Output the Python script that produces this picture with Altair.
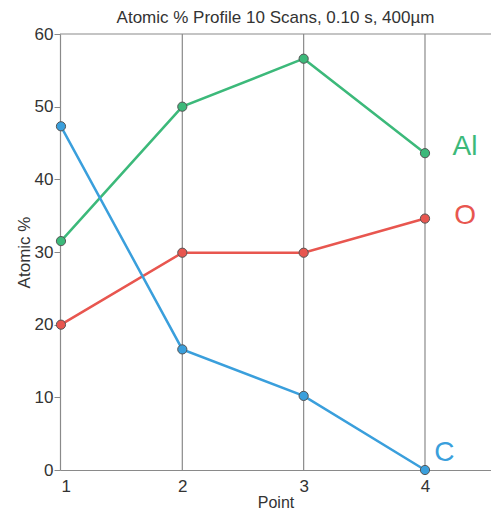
import altair as alt
import pandas as pd

points = [1, 2, 3, 4]
al = [31.5, 50.0, 56.6, 43.6]
o = [20.0, 29.9, 29.9, 34.6]
c = [47.3, 16.6, 10.2, 0.0]

elements = ["Al", "O", "C"]
colors = ["#3cb97a", "#e8564f", "#3a9fdc"]

label_x = [4.33, 4.33, 4.16]
label_y = [44.4, 34.9, 2.3]

rows = []
for name, vals in zip(elements, [al, o, c]):
    for p, v in zip(points, vals):
        rows.append({"Point": p, "Atomic": v, "Element": name})
df = pd.DataFrame(rows)
lab = pd.DataFrame({"x": label_x, "y": label_y, "Element": elements})

FONT = "Liberation Sans"
W, H = 431, 436
xscale = alt.Scale(domain=[0.992, 4.544], nice=False, zero=False)
yscale = alt.Scale(domain=[0, 60], nice=False)
cscale = alt.Scale(domain=elements, range=colors)

base = alt.Chart(df)

grid = alt.Chart(pd.DataFrame({"Point": [2, 3, 4]})).mark_rule(
    color="#8a8a8a", strokeWidth=1.2
).encode(x=alt.X("Point:Q", scale=xscale), y=alt.value(0), y2=alt.value(H))

top = alt.Chart(pd.DataFrame({"a": [0]})).mark_rule(color="#8a8a8a", strokeWidth=1.2).encode(
    x=alt.value(0), x2=alt.value(W), y=alt.value(0)
)

lines = base.mark_line(strokeWidth=2.5).encode(
    x=alt.X(
        "Point:Q",
        scale=xscale,
        axis=alt.Axis(
            values=points,
            format="d",
            grid=False,
            ticks=False,
            domainColor="#8a8a8a",
            domainWidth=1.2,
            labelFont=FONT,
            labelFontSize=17,
            labelColor="#333333",
            labelPadding=8,
            title="Point",
            titleFont=FONT,
            titleFontSize=16,
            titleFontWeight="normal",
            titleColor="#333333",
            titlePadding=0,
        ),
    ),
    y=alt.Y(
        "Atomic:Q",
        scale=yscale,
        axis=alt.Axis(
            values=[0, 10, 20, 30, 40, 50, 60],
            grid=False,
            tickSize=6,
            tickColor="#8a8a8a",
            domainColor="#8a8a8a",
            domainWidth=1.2,
            labelFont=FONT,
            labelFontSize=17,
            labelColor="#333333",
            labelPadding=1,
            title="Atomic %",
            titleFont=FONT,
            titleFontSize=17,
            titleFontWeight="normal",
            titleColor="#333333",
            titlePadding=1,
        ),
    ),
    color=alt.Color("Element:N", scale=cscale, legend=None),
    detail="Element:N",
)

dots = base.mark_circle(size=85, opacity=1, stroke="#555555", strokeWidth=1).encode(
    x=alt.X("Point:Q", scale=xscale),
    y=alt.Y("Atomic:Q", scale=yscale),
    color=alt.Color("Element:N", scale=cscale, legend=None),
)

labels = alt.Chart(lab).mark_text(font=FONT, fontSize=28, align="center", baseline="middle").encode(
    x=alt.X("x:Q", scale=xscale),
    y=alt.Y("y:Q", scale=yscale),
    text="Element:N",
    color=alt.Color("Element:N", scale=cscale, legend=None),
)

chart = (
    alt.layer(grid, top, lines, dots, labels)
    .properties(
        width=W,
        height=H,
        title=alt.TitleParams(
            "Atomic % Profile 10 Scans, 0.10 s, 400\u00b5m",
            font=FONT,
            fontSize=17,
            fontWeight="normal",
            color="#333333",
            anchor="middle",
            offset=-2,
        ),
        autosize=alt.AutoSizeParams(type="none"),
        padding={"left": 52, "top": 26, "right": 0, "bottom": 41},
    )
    .configure_view(stroke=None)
)

chart.save("out.html", embed_options={"renderer": "svg", "actions": False})
